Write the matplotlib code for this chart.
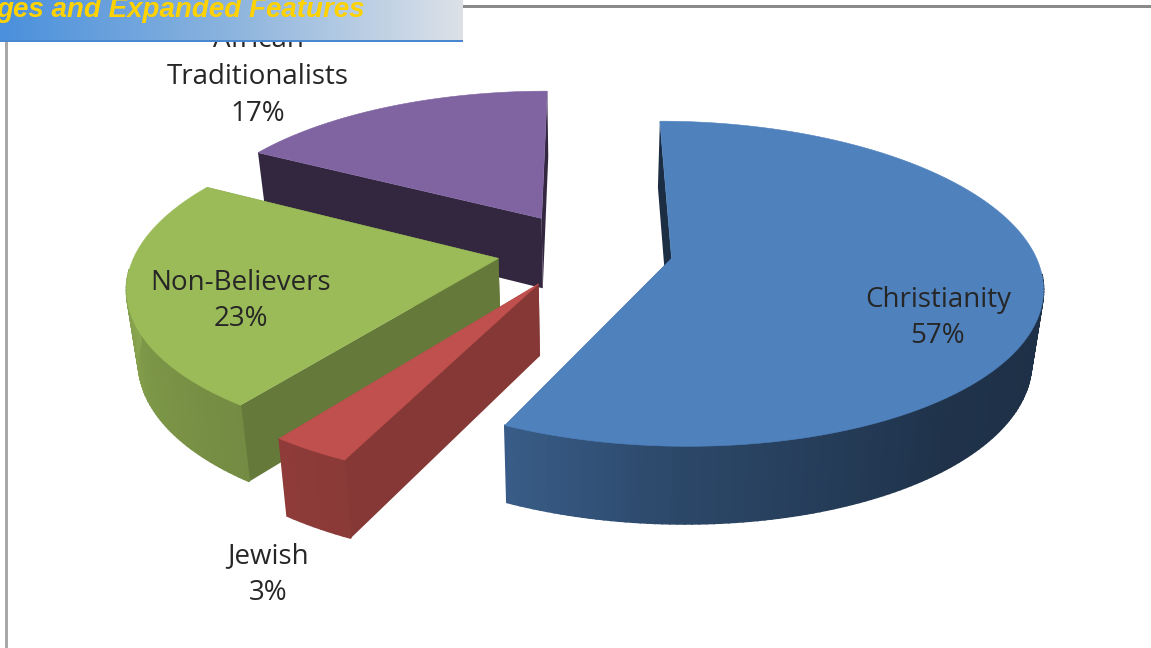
import numpy as np
from matplotlib import pyplot as plt
from matplotlib.colors import LinearSegmentedColormap, to_rgb
from matplotlib.patches import Polygon, Rectangle

# exploded 3D pie, religion shares
labels = ["Christianity", "Jewish", "Non-Believers", "African\nTraditionalists"]
shares = [57, 3, 23, 17]
top_colors = ["#4f81bd", "#c0504d", "#9bbb59", "#8064a2"]
edge_shade = [0.36, 0.70, 0.65, 0.39]
label_pos = [(938, 318), (268, 575), (241, 301), (258, 77)]
header_text = "ges and Expanded Features"

explode = 0.243
start_angle = 0.0

# projection of the pie plane onto the page, in pixels
cx, cy = 585, 250
scale_x, scale_y = 362, 156
persp = 0.155
depth = 71
shrink = 0.026

plt.rcParams["font.family"] = ["Open Sans", "DejaVu Sans"]

fig = plt.figure(figsize=(11.51, 6.48), dpi=100)
ax = fig.add_axes([0, 0, 1, 1])


def project(u, v, bottom=False):
    u = np.asarray(u, dtype=float)
    v = np.asarray(v, dtype=float)
    w = 1 - persp * v
    x = cx + scale_x * u / w
    y = cy + scale_y * v / w
    if bottom:
        x = cx + (x - cx) * (1 - shrink)
        y = y + depth / np.sqrt(w)
    return np.column_stack([x, y])


def outer_shade(angle):
    # wall brightness round the rim, angle clockwise from the back
    a = np.mod(angle, 360)
    return np.interp(a, [0, 90, 140, 180, 205, 240, 270, 360],
                     [0.36, 0.36, 0.39, 0.55, 0.72, 0.80, 0.90, 0.90])


def draw_slice(a0, a1, color, shade):
    base = np.array(to_rgb(color))
    mid = np.radians((a0 + a1) / 2)
    ox, oy = explode * np.sin(mid), -explode * np.cos(mid)
    t = np.radians(np.linspace(a0, a1, max(int(a1 - a0), 6)))
    u = ox + np.sin(t)
    v = oy - np.cos(t)

    # flat cut faces
    for end in (0, -1):
        us = [ox, u[end]]
        vs = [oy, v[end]]
        pts = np.vstack([project(us, vs), project(us, vs, True)[::-1]])
        ax.add_patch(Polygon(pts, closed=True, fc=base * shade, ec="none"))

    # rim, cut into strips to get the shading; only the part facing front
    top = project(u, v)
    low = project(u, v, True)
    for i in range(len(t) - 1):
        if np.cos(t[i]) > -0.08:
            continue
        pts = [top[i], top[i + 1], low[i + 1], low[i]]
        f = outer_shade(np.degrees(t[i]))
        ax.add_patch(Polygon(pts, closed=True, fc=base * f, ec=base * f, lw=1.2))

    pts = np.vstack([project([ox], [oy]), top])
    ax.add_patch(Polygon(pts, closed=True, fc=base, ec=base, lw=0.4))


# angles of each slice, then paint back to front
fracs = np.array(shares) / sum(shares) * 360
starts = start_angle + np.concatenate([[0], np.cumsum(fracs)[:-1]])
for i in [3, 2, 1, 0]:
    draw_slice(starts[i], starts[i] + fracs[i], top_colors[i], edge_shade[i])

for lab, val, (lx, ly) in zip(labels, shares, label_pos):
    ax.text(lx, ly, "%s\n%d%%" % (lab, val), ha="center", va="center",
            fontsize=20, color="#262626", linespacing=1.42, zorder=5)

# page frame lines
ax.add_patch(Rectangle((5, 40), 3.5, 608, fc="#a8a8a8", ec="none", zorder=6))
ax.add_patch(Rectangle((463, 5), 688, 3, fc="#8a8a8a", ec="none", zorder=6))

# title strip along the top
strip = LinearSegmentedColormap.from_list("strip", ["#4a90dc", "#8cb4de", "#dce1e8"])
ax.imshow(np.linspace(0, 1, 256).reshape(1, -1), cmap=strip, aspect="auto",
          extent=(0, 463, 40, 0), zorder=7)
ax.add_patch(Rectangle((0, 39.5), 463, 2, fc="#4a86cf", ec="none", zorder=8))
ax.text(365, 17, header_text, ha="right", va="baseline", fontsize=20,
        family="Liberation Sans", weight="bold", style="italic",
        color="#ffd200", zorder=9)

ax.set_xlim(0, 1151)
ax.set_ylim(648, 0)
ax.axis("off")

fig.savefig("out.png", dpi=100)
